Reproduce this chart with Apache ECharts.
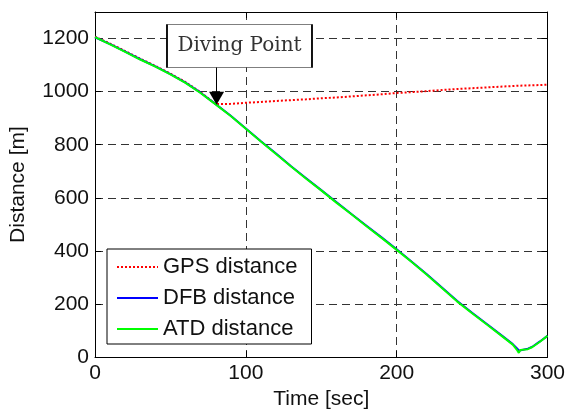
<!DOCTYPE html>
<html>
<head>
<meta charset="utf-8">
<title>Distance</title>
<script src="https://cdn.jsdelivr.net/npm/echarts@6/dist/echarts.min.js"></script>
<style>
  html, body { margin: 0; padding: 0; background: #fff; }
  #main { width: 568px; height: 415px; }
</style>
</head>
<body>
<div id="main"></div>
<script type="text/javascript">
// time [sec] for DFB / ATD
var timeSec = [0, 10, 20, 30, 40, 50, 60, 70, 80, 90, 100, 110, 120, 130, 140, 150, 160, 170, 180, 190,
  200, 210, 220, 230, 240, 250, 260, 270, 277, 280, 281, 282, 287, 290, 295, 300];
var atdDist = [1205, 1178, 1150, 1121, 1094, 1065, 1033, 995, 952, 908, 860, 812, 765, 718, 672, 628, 582, 538, 493, 449,
  404, 358, 310, 260, 210, 165, 122, 78, 47, 25, 16, 27, 30, 38, 58, 80];
var dfbDist = [1205, 1179, 1151, 1122, 1095, 1066, 1034, 996, 953, 909, 861, 813, 767, 719, 674, 629, 584, 539, 495, 451,
  406, 359, 312, 262, 212, 167, 124, 80, 49, 32, 24, 30, 32, 39, 59, 80];

// GPS only valid on the surface, frozen-ish after diving
var gpsTime = [0, 10, 20, 30, 40, 50, 60, 70, 80, 90, 100, 110, 120, 130, 140, 150, 160, 170, 180, 190,
  200, 210, 220, 230, 240, 250, 260, 270, 280, 290, 300];
var gpsDist = [1207, 1181, 1153, 1124, 1097, 1068, 1036, 998, 953, 954, 958, 961, 965, 968, 971, 975, 978, 982, 986, 990,
  995, 998, 1002, 1006, 1010, 1013, 1016, 1019, 1022, 1024, 1026];

var xTicks = { min: 0, max: 300, step: 100 };
var yTicks = { min: 0, max: 1300, step: 200 };

// annotation (data space)
var divePoint = [80.6, 975];
var diveBoxTop = [80.6, 1093];
var diveLabelAt = [95.8, 1172];

function pairs(xs, ys) {
  var out = [];
  for (var i = 0; i < xs.length; i++) out.push([xs[i], ys[i]]);
  return out;
}

var chart = echarts.init(document.getElementById('main'), null, { renderer: 'canvas' });

var font = 'Liberation Sans, Arial, sans-serif';
var gridLine = { show: true, lineStyle: { color: '#333', type: [8, 5], width: 1 } };
var plain = function (v) { return String(v); };

var option = {
  animation: false,
  backgroundColor: '#fff',
  grid: { left: 94, top: 12, right: 20, bottom: 54 },
  legend: {
    orient: 'vertical',
    left: 107,
    top: 249,
    backgroundColor: '#fff',
    borderColor: '#000',
    borderWidth: 1,
    borderRadius: 0,
    padding: [7, 14, 4, 9],
    itemWidth: 41,
    itemHeight: 14,
    itemGap: 9,
    selectedMode: false,
    itemStyle: { opacity: 0 },
    textStyle: { fontFamily: font, fontSize: 22, color: '#111' },
    data: ['GPS distance', 'DFB distance', 'ATD distance']
  },
  xAxis: [{
    type: 'value', min: xTicks.min, max: xTicks.max, interval: xTicks.step,
    name: 'Time [sec]', nameLocation: 'middle', nameGap: 30,
    nameTextStyle: { fontFamily: font, fontSize: 21, color: '#111' },
    axisLine: { show: true, onZero: false, lineStyle: { color: '#000' } },
    axisTick: { show: true, inside: true, length: 6, lineStyle: { color: '#000' } },
    axisLabel: { fontFamily: font, fontSize: 21, color: '#111', margin: 6, formatter: plain },
    splitLine: gridLine
  }, {
    type: 'value', position: 'top', min: xTicks.min, max: xTicks.max, interval: xTicks.step,
    axisLine: { show: true, onZero: false, lineStyle: { color: '#000' } },
    axisTick: { show: true, inside: true, length: 6, lineStyle: { color: '#000' } },
    axisLabel: { show: false },
    splitLine: { show: false }
  }],
  yAxis: [{
    type: 'value', min: yTicks.min, max: yTicks.max, interval: yTicks.step,
    name: 'Distance [m]', nameLocation: 'middle', nameGap: 66,
    nameTextStyle: { fontFamily: font, fontSize: 21, color: '#111' },
    axisLine: { show: true, onZero: false, lineStyle: { color: '#000' } },
    axisTick: { show: true, inside: true, length: 6, lineStyle: { color: '#000' } },
    axisLabel: { fontFamily: font, fontSize: 21, color: '#111', margin: 6, showMaxLabel: false, formatter: plain },
    splitLine: gridLine
  }, {
    type: 'value', position: 'right', min: yTicks.min, max: yTicks.max, interval: yTicks.step,
    axisLine: { show: true, onZero: false, lineStyle: { color: '#000' } },
    axisTick: { show: true, inside: true, length: 6, lineStyle: { color: '#000' } },
    axisLabel: { show: false },
    splitLine: { show: false }
  }],
  series: [{
    name: 'GPS distance',
    type: 'line',
    showSymbol: false,
    symbol: 'none',
    color: '#ff0000',
    lineStyle: { color: '#ff0000', width: 2, type: [2, 2] },
    data: pairs(gpsTime, gpsDist),
    z: 2,
    markLine: {
      silent: true,
      symbol: ['none', 'triangle'],
      symbolSize: [15, 13],
      label: { show: false },
      lineStyle: { color: '#000', width: 1, type: 'solid' },
      data: [[{ coord: diveBoxTop }, { coord: divePoint }]],
      z: 10
    },
    markPoint: {
      silent: true,
      symbol: 'rect',
      symbolSize: [145, 43],
      itemStyle: { color: '#fff', borderColor: '#000', borderWidth: 1 },
      label: {
        show: true, position: 'inside', formatter: 'Diving Point',
        fontFamily: 'DejaVu Serif, Liberation Serif, serif', fontSize: 20, color: '#333'
      },
      data: [{ coord: diveLabelAt }],
      z: 10
    }
  }, {
    name: 'DFB distance',
    type: 'line',
    showSymbol: false,
    symbol: 'none',
    color: '#0000ff',
    lineStyle: { color: '#0000ff', width: 2 },
    data: pairs(timeSec, dfbDist),
    z: 3
  }, {
    name: 'ATD distance',
    type: 'line',
    showSymbol: false,
    symbol: 'none',
    color: '#00ff00',
    lineStyle: { color: '#00ff00', width: 2 },
    data: pairs(timeSec, atdDist),
    z: 4
  }]
};

chart.setOption(option);
</script>
</body>
</html>
